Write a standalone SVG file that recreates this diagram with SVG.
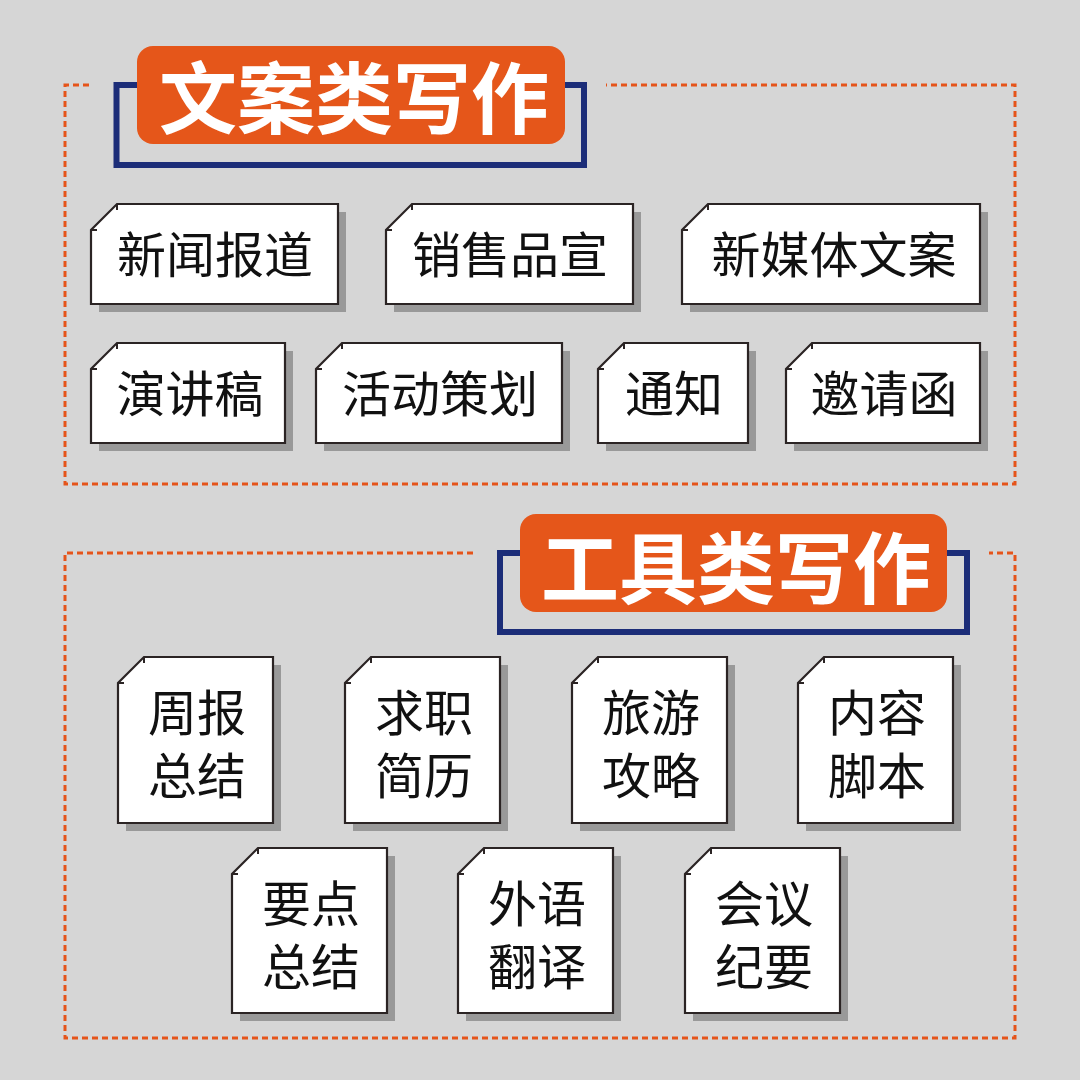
<svg xmlns="http://www.w3.org/2000/svg" width="1080" height="1080" viewBox="0 0 1080 1080">
<style>
.bg{fill:#d6d6d6}
.dash{fill:none;stroke:#e5541a;stroke-width:3;stroke-dasharray:6 4}
.blue{fill:none;stroke:#1c2d78;stroke-width:6}
.tbox{fill:#e5561a}
.ttl{font-family:"Noto Sans CJK SC","Noto Sans",sans-serif;font-weight:700;font-size:78px;fill:#ffffff;text-anchor:middle}
.shadow{fill:#999999}
.card{fill:#ffffff;stroke:#2b2424;stroke-width:2.2;stroke-linejoin:miter}
.stub{fill:none;stroke:#2b2424;stroke-width:2}
.lbl{font-family:"Noto Sans CJK SC","Noto Sans",sans-serif;font-size:49px;fill:#111111;text-anchor:middle}
</style>
<rect class="bg" x="0" y="0" width="1080" height="1080"/>

<g id="connectors">
  <path class="dash" d="M89,85 H65 V484 H1015 V85 H606"/>
  <path class="dash" d="M473,553 H65 V1038 H1015 V553 H989"/>
</g>

<g id="title-wenan">
  <rect class="blue" x="116.5" y="85" width="467.5" height="80"/>
  <rect class="tbox" x="137" y="46" width="428" height="98" rx="16"/>
  <text class="ttl" x="354" y="128">文案类写作</text>
</g>

<g id="title-gongju">
  <rect class="blue" x="500" y="553" width="467" height="79"/>
  <rect class="tbox" x="520" y="514" width="427" height="98" rx="16"/>
  <text class="ttl" x="736" y="598">工具类写作</text>
</g>

<!-- top section cards -->
<g id="card-xinwen">
  <path class="shadow" d="M125,212 H346 V312 H99 V238 Z"/>
  <path class="card" d="M117,204 H338 V304 H91 V230 Z"/>
  <path class="stub" d="M117,204 V210 M91,230 H97"/>
  <text class="lbl" x="215" y="273">新闻报道</text>
</g>
<g id="card-xiaoshou">
  <path class="shadow" d="M420,212 H641 V312 H394 V238 Z"/>
  <path class="card" d="M412,204 H633 V304 H386 V230 Z"/>
  <path class="stub" d="M412,204 V210 M386,230 H392"/>
  <text class="lbl" x="510" y="273">销售品宣</text>
</g>
<g id="card-xinmeiti">
  <path class="shadow" d="M716,212 H988 V312 H690 V238 Z"/>
  <path class="card" d="M708,204 H980 V304 H682 V230 Z"/>
  <path class="stub" d="M708,204 V210 M682,230 H688"/>
  <text class="lbl" x="834" y="273">新媒体文案</text>
</g>
<g id="card-yanjiang">
  <path class="shadow" d="M125,351 H293 V451 H99 V377 Z"/>
  <path class="card" d="M117,343 H285 V443 H91 V369 Z"/>
  <path class="stub" d="M117,343 V349 M91,369 H97"/>
  <text class="lbl" x="190" y="412">演讲稿</text>
</g>
<g id="card-huodong">
  <path class="shadow" d="M350,351 H570 V451 H324 V377 Z"/>
  <path class="card" d="M342,343 H562 V443 H316 V369 Z"/>
  <path class="stub" d="M342,343 V349 M316,369 H322"/>
  <text class="lbl" x="440" y="412">活动策划</text>
</g>
<g id="card-tongzhi">
  <path class="shadow" d="M632,351 H756 V451 H606 V377 Z"/>
  <path class="card" d="M624,343 H748 V443 H598 V369 Z"/>
  <path class="stub" d="M624,343 V349 M598,369 H604"/>
  <text class="lbl" x="674" y="412">通知</text>
</g>
<g id="card-yaoqing">
  <path class="shadow" d="M820,351 H988 V451 H794 V377 Z"/>
  <path class="card" d="M812,343 H980 V443 H786 V369 Z"/>
  <path class="stub" d="M812,343 V349 M786,369 H792"/>
  <text class="lbl" x="884" y="412">邀请函</text>
</g>

<!-- bottom section cards -->
<g id="card-zhoubao">
  <path class="shadow" d="M152,665 H281 V831 H126 V691 Z"/>
  <path class="card" d="M144,657 H273 V823 H118 V683 Z"/>
  <path class="stub" d="M144,657 V663 M118,683 H124"/>
  <text class="lbl"><tspan x="197" y="731">周报</tspan><tspan x="197" y="794">总结</tspan></text>
</g>
<g id="card-qiuzhi">
  <path class="shadow" d="M379,665 H508 V831 H353 V691 Z"/>
  <path class="card" d="M371,657 H500 V823 H345 V683 Z"/>
  <path class="stub" d="M371,657 V663 M345,683 H351"/>
  <text class="lbl"><tspan x="424" y="731">求职</tspan><tspan x="424" y="794">简历</tspan></text>
</g>
<g id="card-lvyou">
  <path class="shadow" d="M606,665 H735 V831 H580 V691 Z"/>
  <path class="card" d="M598,657 H727 V823 H572 V683 Z"/>
  <path class="stub" d="M598,657 V663 M572,683 H578"/>
  <text class="lbl"><tspan x="651" y="731">旅游</tspan><tspan x="651" y="794">攻略</tspan></text>
</g>
<g id="card-neirong">
  <path class="shadow" d="M832,665 H961 V831 H806 V691 Z"/>
  <path class="card" d="M824,657 H953 V823 H798 V683 Z"/>
  <path class="stub" d="M824,657 V663 M798,683 H804"/>
  <text class="lbl"><tspan x="877" y="731">内容</tspan><tspan x="877" y="794">脚本</tspan></text>
</g>
<g id="card-yaodian">
  <path class="shadow" d="M266,856 H395 V1021 H240 V882 Z"/>
  <path class="card" d="M258,848 H387 V1013 H232 V874 Z"/>
  <path class="stub" d="M258,848 V854 M232,874 H238"/>
  <text class="lbl"><tspan x="311" y="922">要点</tspan><tspan x="311" y="985">总结</tspan></text>
</g>
<g id="card-waiyu">
  <path class="shadow" d="M492,856 H621 V1021 H466 V882 Z"/>
  <path class="card" d="M484,848 H613 V1013 H458 V874 Z"/>
  <path class="stub" d="M484,848 V854 M458,874 H464"/>
  <text class="lbl"><tspan x="537" y="922">外语</tspan><tspan x="537" y="985">翻译</tspan></text>
</g>
<g id="card-huiyi">
  <path class="shadow" d="M719,856 H848 V1021 H693 V882 Z"/>
  <path class="card" d="M711,848 H840 V1013 H685 V874 Z"/>
  <path class="stub" d="M711,848 V854 M685,874 H691"/>
  <text class="lbl"><tspan x="764" y="922">会议</tspan><tspan x="764" y="985">纪要</tspan></text>
</g>
</svg>
